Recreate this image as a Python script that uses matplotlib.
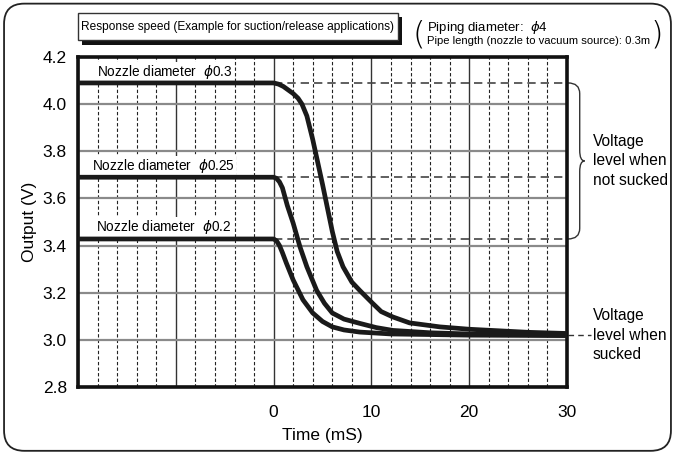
import numpy as np
import matplotlib
matplotlib.use('agg')
import matplotlib.pyplot as plt
import matplotlib.ticker as mticker
import matplotlib.transforms as mtransforms
from matplotlib.path import Path
from matplotlib.patches import PathPatch, FancyBboxPatch, Rectangle

plt.rcParams['font.family'] = ['Liberation Sans', 'DejaVu Sans']

# curves (time in ms, output in V)
t_03 = [-20, 0, 0.5, 1.0, 1.5, 2.0, 2.5, 2.9, 3.4, 4.0, 5.0, 6.0, 6.5, 7.1, 8.0, 8.8, 10.1, 11.0, 12.2, 13.9, 17, 20, 26, 30]
v_03 = [4.09, 4.09, 4.085, 4.075, 4.06, 4.045, 4.025, 4.0, 3.95, 3.85, 3.66, 3.46, 3.375, 3.31, 3.245, 3.21, 3.156, 3.12, 3.097, 3.072, 3.055, 3.045, 3.032, 3.027]

t_025 = [-20, 0, 0.3, 0.6, 0.9, 1.4, 2.0, 2.7, 3.4, 4.4, 5.2, 6.0, 7.2, 8.8, 10.5, 12.2, 16, 20, 30]
v_025 = [3.69, 3.69, 3.685, 3.67, 3.645, 3.57, 3.495, 3.394, 3.31, 3.21, 3.155, 3.114, 3.088, 3.07, 3.052, 3.04, 3.03, 3.025, 3.02]

t_02 = [-20, 0, 0.3, 0.6, 0.9, 1.3, 2.0, 3.0, 4.0, 5.0, 6.0, 7.2, 8.8, 12, 20, 30]
v_02 = [3.428, 3.428, 3.42, 3.4, 3.37, 3.326, 3.254, 3.17, 3.114, 3.078, 3.055, 3.042, 3.033, 3.025, 3.02, 3.018]

labels = ['Nozzle diameter  $\\phi$0.3', 'Nozzle diameter  $\\phi$0.25', 'Nozzle diameter  $\\phi$0.2']
label_pos = [(-18.1, 4.138), (-18.6, 3.738), (-18.2, 3.48)]
level_on = [4.09, 3.69, 3.428]
level_off = 3.02

fig = plt.figure(figsize=(6.75, 4.54), dpi=100)
ax = fig.add_axes([0.1156, 0.1476, 0.7244, 0.7268])

# rounded outer frame
frame = FancyBboxPatch((0.006, 0.007), 0.988, 0.985, boxstyle='round,pad=0,rounding_size=0.03',
                       transform=fig.transFigure, fill=False, lw=1.3, ec='#222222', mutation_aspect=675/454)
fig.patches.append(frame)

ax.set_xlim(-20, 30)
ax.set_ylim(2.8, 4.2)
ax.xaxis.set_major_locator(mticker.MultipleLocator(10))
ax.xaxis.set_minor_locator(mticker.MultipleLocator(2))
ax.yaxis.set_major_locator(mticker.MultipleLocator(0.2))
ax.xaxis.set_major_formatter(mticker.FuncFormatter(lambda v, p: '%d' % v if v >= 0 else ''))
ax.yaxis.set_major_formatter(mticker.FormatStrFormatter('%.1f'))
ax.tick_params(which='both', length=0)
ax.tick_params(axis='x', pad=13, labelsize=12.5)
ax.tick_params(axis='y', pad=8, labelsize=12.5)

ax.grid(which='major', axis='x', color='#333333', lw=1.0, ls='-')
ax.grid(which='minor', axis='x', color='#222222', lw=0.8, ls=(0, (3, 2)))
ax.grid(which='major', axis='y', color='#8a8a8a', lw=1.6, ls='-')
ax.set_axisbelow(True)

for s in ax.spines.values():
    s.set_linewidth(2.6)
    s.set_color('#111111')

for lv in level_on:
    ax.plot([0, 30], [lv, lv], color='#444444', lw=1.2, ls=(0, (5, 3)), zorder=2)

for t, v in [(t_03, v_03), (t_025, v_025), (t_02, v_02)]:
    ax.plot(t, v, color='#1a1a1a', lw=3.4, solid_capstyle='butt', solid_joinstyle='round', zorder=5)

for lab, (x, y) in zip(labels, label_pos):
    ax.text(x, y, lab, fontsize=9.8, va='center', ha='left', zorder=4,
            bbox=dict(fc='white', ec='none', pad=0.8))

ax.set_xlabel('Time (mS)', fontsize=12.5, labelpad=6)
ax.set_ylabel('Output (V)', fontsize=12.5, labelpad=4)

# brace for "not sucked" levels
bt = mtransforms.blended_transform_factory(ax.transAxes, ax.transData)
x0, x1, x2 = 1.002, 1.026, 1.036
ytop, ybot = level_on[0], level_on[2]
ymid = (ytop + ybot) / 2
r = 0.045
verts = [(x0, ytop), (x1, ytop), (x1, ytop - r),
         (x1, ymid + r),
         (x1, ymid), (x2, ymid),
         (x1, ymid), (x1, ymid - r),
         (x1, ybot + r),
         (x1, ybot), (x0, ybot)]
codes = [Path.MOVETO, Path.CURVE3, Path.CURVE3, Path.LINETO,
         Path.CURVE3, Path.CURVE3, Path.CURVE3, Path.CURVE3,
         Path.LINETO, Path.CURVE3, Path.CURVE3]
ax.add_patch(PathPatch(Path(verts, codes), transform=bt, fill=False, lw=1.0, ec='#333333', clip_on=False))
ax.text(1.053, ymid, 'Voltage\nlevel when\nnot sucked', transform=bt, fontsize=11.2,
        va='center', ha='left', linespacing=1.35)

# "sucked" level
ax.plot([1.003, 1.05], [level_off, level_off], transform=bt, color='#333333', lw=1.0,
        ls=(0, (4, 3)), clip_on=False)
ax.text(1.053, level_off, 'Voltage\nlevel when\nsucked', transform=bt, fontsize=11.2,
        va='center', ha='left', linespacing=1.35)

# title box with shadow
fig.patches.append(Rectangle((82/675, 1 - 45/454), 320/675, 28/454, transform=fig.transFigure,
                             fc='#111111', ec='none'))
fig.patches.append(Rectangle((78/675, 1 - 40/454), 320/675, 27/454, transform=fig.transFigure,
                             fc='white', ec='#333333', lw=1.0))
fig.text(238/675, 1 - 27/454, 'Response speed (Example for suction/release applications)',
         fontsize=8.6, ha='center', va='center')

# piping note
fig.text(419/675, 1 - 35/454, '(', fontsize=23, ha='center', va='center',
         family=['DejaVu Sans'], fontweight='light')
fig.text(657/675, 1 - 35/454, ')', fontsize=23, ha='center', va='center',
         family=['DejaVu Sans'], fontweight='light')
fig.text(427/675, 1 - 27/454, 'Piping diameter:  $\\phi$4', fontsize=9.5, ha='left', va='center')
fig.text(427/675, 1 - 41/454, 'Pipe length (nozzle to vacuum source): 0.3m', fontsize=8.1,
         ha='left', va='center')

fig.savefig('out.png', dpi=100)
